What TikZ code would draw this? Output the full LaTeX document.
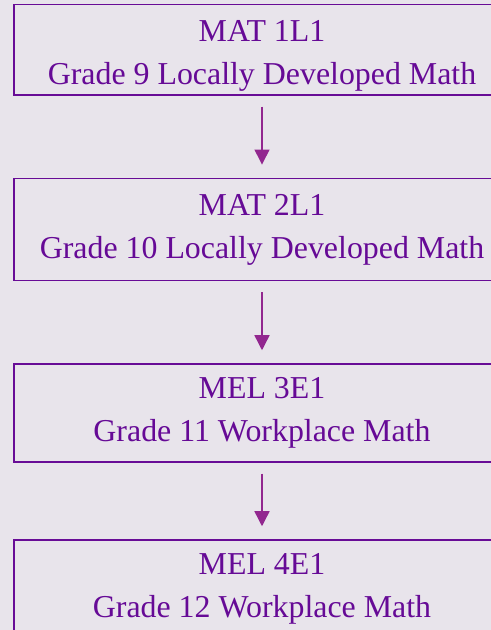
\documentclass[tikz,border=0pt]{standalone}
\usepackage{fontspec}
\setmainfont{Liberation Serif}
\definecolor{path_bg}{RGB}{232, 228, 235}
\definecolor{path_purple}{RGB}{104, 12, 150}
\definecolor{path_text}{RGB}{102, 10, 150}
\definecolor{path_arrow}{RGB}{146, 39, 143}
\usetikzlibrary{arrows.meta, positioning}

\begin{document}
\begin{tikzpicture}[
      x=1bp, y=1bp,
      course/.style={rectangle, draw=path_purple, line width=1.5bp,
                     minimum width=496bp, align=center, text=path_text,
                     font=\fontsize{32}{43}\selectfont},
      arr/.style={-{Triangle[width=15bp, length=15bp]}, line width=1.4bp,
                  path_arrow, shorten <=11bp, shorten >=13bp},
    ]
      \useasboundingbox (0,0) rectangle (491,630);
      \fill[path_bg] (0,0) rectangle (491,630);
      \clip (0,0) rectangle (491,630);

      \node[course, minimum height=90.5bp, text height=69bp, text depth=0bp]
            (mat1) at (262, 580.25) {MAT 1L1\\Grade 9 Locally Developed Math};
      \node[course, minimum height=102.4bp] (mat2) at (262, 400.5)
            {MAT 2L1\\Grade 10 Locally Developed Math};
      \node[course, minimum height=98bp] (mel3) at (262, 217)
            {MEL 3E1\\Grade 11 Workplace Math};
      \node[course, minimum height=98bp] (mel4) at (262, 41)
            {MEL 4E1\\Grade 12 Workplace Math};

      \draw[arr] (mat1) -- (mat2);
      \draw[arr] (mat2) -- (mel3);
      \draw[arr] (mel3) -- (mel4);
    \end{tikzpicture}
\end{document}
